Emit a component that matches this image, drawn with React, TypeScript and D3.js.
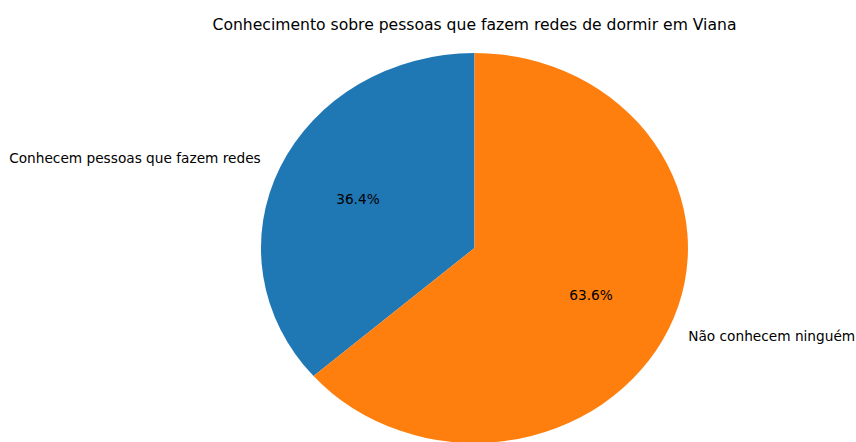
import React, { useRef, useEffect } from 'react';
import * as d3 from 'd3';

const title = 'Conhecimento sobre pessoas que fazem redes de dormir em Viana';
const categories = ['Conhecem pessoas que fazem redes', 'Não conhecem ninguém'];
const values = [36.4, 63.6];
const colors = ['#1f77b4', '#ff7f0e'];

const App = () => {
  const svgRef = useRef<SVGSVGElement>(null);

  useEffect(() => {
    const width = 856;
    const height = 442;
    const cx = 474.5;
    const cy = 248;
    const rx = 213.5;
    const ry = 195;
    const font = '"DejaVu Sans", sans-serif';

    const svg = d3.select(svgRef.current)
      .attr('width', width)
      .attr('height', height);
    svg.selectAll('*').remove();

    svg.append('rect').attr('width', width).attr('height', height).attr('fill', 'white');

    svg.append('text')
      .attr('x', cx)
      .attr('y', 25)
      .attr('text-anchor', 'middle')
      .attr('dominant-baseline', 'middle')
      .attr('font-family', font)
      .attr('font-size', '15.6px')
      .attr('fill', 'black')
      .text(title);

    const total = d3.sum(values);
    const pie = d3.pie<number>().sort(null).startAngle(0).endAngle(-2 * Math.PI);
    const arcs = pie(values);
    const arc = d3.arc<d3.PieArcDatum<number>>().innerRadius(0).outerRadius(1);

    const g = svg.append('g')
      .attr('transform', `translate(${cx},${cy}) scale(${rx},${ry})`);

    g.selectAll('path')
      .data(arcs)
      .enter()
      .append('path')
      .attr('d', arc as any)
      .attr('fill', (d, i) => colors[i]);

    const pos = (a: number, f: number) => [cx + f * rx * Math.sin(a), cy - f * ry * Math.cos(a)];

    arcs.forEach((d, i) => {
      const mid = (d.startAngle + d.endAngle) / 2;
      const [lx, ly] = pos(mid, 1.1);
      svg.append('text')
        .attr('x', lx)
        .attr('y', ly)
        .attr('text-anchor', Math.sin(mid) < 0 ? 'end' : 'start')
        .attr('dominant-baseline', 'middle')
        .attr('font-family', font)
        .attr('font-size', '13.7px')
        .attr('fill', 'black')
        .text(categories[i]);

      const [px, py] = pos(mid, 0.6);
      svg.append('text')
        .attr('x', px)
        .attr('y', py)
        .attr('text-anchor', 'middle')
        .attr('dominant-baseline', 'middle')
        .attr('font-family', font)
        .attr('font-size', '13.7px')
        .attr('fill', 'black')
        .text(d3.format('.1f')((d.data / total) * 100) + '%');
    });
  }, []);

  return <svg ref={svgRef} style={{ position: 'absolute', left: 0, top: 0 }}></svg>;
};

export default App;
